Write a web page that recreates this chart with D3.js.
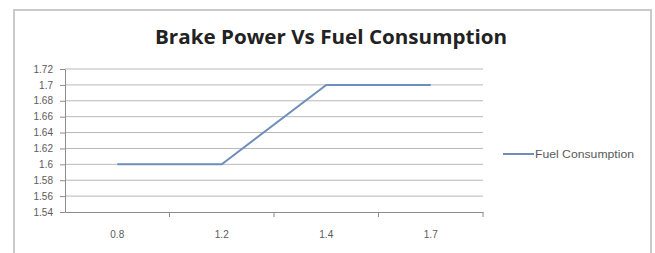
<!DOCTYPE html>
<html lang="en">
<head>
  <meta charset="UTF-8">
  <title>Brake Power Vs Fuel Consumption</title>
  <script src="https://d3js.org/d3.v7.min.js"></script>
  <style>
    body { margin: 0; background: #fff; }
  </style>
</head>
<body>
<div id="chart-container"></div>
<script>
// chart values
const brakePower = ["0.8", "1.2", "1.4", "1.7"];
const fuelConsumption = [1.6, 1.6, 1.7, 1.7];
const yTicks = [1.54, 1.56, 1.58, 1.6, 1.62, 1.64, 1.66, 1.68, 1.7, 1.72];
const seriesName = "Fuel Consumption";

const width = 655, height = 253;
const plot = { left: 65, right: 483, top: 69, bottom: 212 };

const svg = d3.select("#chart-container")
  .append("svg")
  .attr("width", width)
  .attr("height", height);

// outer chart frame
svg.append("rect")
  .attr("x", 14).attr("y", 10)
  .attr("width", 637).attr("height", 250)
  .attr("fill", "#fff")
  .attr("stroke", "#c9c9c9")
  .attr("stroke-width", 2);

// title
svg.append("text")
  .attr("x", 331).attr("y", 44)
  .attr("text-anchor", "middle")
  .attr("font-family", "Open Sans, sans-serif")
  .attr("font-weight", "bold")
  .attr("font-size", 20)
  .attr("textLength", 352)
  .attr("lengthAdjust", "spacingAndGlyphs")
  .attr("fill", "#222")
  .text("Brake Power Vs Fuel Consumption");

const xScale = d3.scaleBand()
  .domain(brakePower)
  .range([plot.left, plot.right]);

const yScale = d3.scaleLinear()
  .domain([1.54, 1.72])
  .range([plot.bottom, plot.top]);

// gridlines
svg.append("g")
  .selectAll("line")
  .data(yTicks.slice(1))
  .enter()
  .append("line")
  .attr("x1", plot.left).attr("x2", plot.right)
  .attr("y1", d => yScale(d)).attr("y2", d => yScale(d))
  .attr("stroke", "#b8b8b8")
  .attr("stroke-width", 1);

// y axis
const yAxis = svg.append("g")
  .attr("transform", `translate(${plot.left},0)`)
  .call(d3.axisLeft(yScale).tickValues(yTicks).tickSize(5).tickSizeOuter(0)
    .tickFormat(d => d3.format("")(+d.toFixed(2))));

yAxis.selectAll("text").attr("x", -12);

// x axis
const xAxis = svg.append("g")
  .attr("transform", `translate(0,${plot.bottom})`)
  .call(d3.axisBottom(xScale).tickSize(0).tickSizeOuter(0));

xAxis.selectAll("text").attr("dy", "2.3em");

// tick marks between categories
svg.append("g")
  .selectAll("line")
  .data(brakePower)
  .enter()
  .append("line")
  .attr("x1", d => xScale(d) + xScale.bandwidth())
  .attr("x2", d => xScale(d) + xScale.bandwidth())
  .attr("y1", plot.bottom).attr("y2", plot.bottom + 5)
  .attr("stroke", "#8c8c8c");

[yAxis, xAxis].forEach(ax => {
  ax.selectAll(".domain, .tick line").attr("stroke", "#8c8c8c");
  ax.selectAll("text")
    .attr("font-family", "Liberation Sans, Arial, sans-serif")
    .attr("font-size", 10)
    .attr("fill", "#5a5a5a");
});

// series line
const line = d3.line()
  .x((d, i) => xScale(brakePower[i]) + xScale.bandwidth() / 2)
  .y(d => yScale(d));

svg.append("path")
  .datum(fuelConsumption)
  .attr("d", line)
  .attr("fill", "none")
  .attr("stroke", "#6e8fbc")
  .attr("stroke-width", 2);

// legend
svg.append("line")
  .attr("x1", 503).attr("x2", 534)
  .attr("y1", 154).attr("y2", 154)
  .attr("stroke", "#6e8fbc")
  .attr("stroke-width", 2);

svg.append("text")
  .attr("x", 535).attr("y", 158)
  .attr("font-family", "Liberation Sans, Arial, sans-serif")
  .attr("font-size", 10)
  .attr("textLength", 99)
  .attr("lengthAdjust", "spacingAndGlyphs")
  .attr("fill", "#5a5a5a")
  .text(seriesName);
</script>
</body>
</html>
